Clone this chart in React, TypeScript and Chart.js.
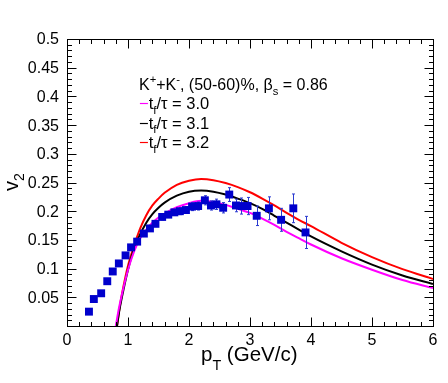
import React, { useEffect, useRef } from "react";
import { Chart, registerables } from "chart.js";

Chart.register(...registerables);

// Measured data (K+ + K-, 50-60%)
const ptData = [0.36, 0.44, 0.56, 0.66, 0.75, 0.85, 0.96, 1.05, 1.15, 1.26, 1.36, 1.45, 1.56, 1.66, 1.76, 1.85, 1.95, 2.05, 2.15, 2.26, 2.36, 2.45, 2.56, 2.66, 2.77, 2.86, 2.96, 3.11, 3.31, 3.51, 3.71, 3.91];
const v2Data = [0.025, 0.047, 0.057, 0.078, 0.095, 0.109, 0.123, 0.137, 0.147, 0.161, 0.170, 0.178, 0.190, 0.194, 0.198, 0.200, 0.202, 0.208, 0.209, 0.219, 0.210, 0.212, 0.206, 0.229, 0.210, 0.209, 0.209, 0.192, 0.205, 0.185, 0.205, 0.163];
const v2Err = [0.002, 0.002, 0.002, 0.002, 0.002, 0.002, 0.002, 0.003, 0.003, 0.003, 0.004, 0.004, 0.005, 0.005, 0.005, 0.006, 0.006, 0.007, 0.007, 0.008, 0.008, 0.009, 0.009, 0.012, 0.011, 0.014, 0.015, 0.017, 0.020, 0.020, 0.025, 0.028];

// Model curves
const curvePt = [0.8, 0.85, 0.9, 1.0, 1.1, 1.2, 1.3, 1.4, 1.5, 1.6, 1.8, 2.0, 2.2, 2.4, 2.6, 2.8, 3.0, 3.2, 3.4, 3.6, 3.8, 4.0, 4.5, 5.0, 5.5, 6.0];
const curve30 = [0.0, 0.03, 0.055, 0.098, 0.13, 0.153, 0.168, 0.18, 0.189, 0.196, 0.207, 0.214, 0.218, 0.216, 0.211, 0.204, 0.197, 0.187, 0.176, 0.164, 0.153, 0.142, 0.118, 0.098, 0.080, 0.066];
const curve31Pt = [0.82, 0.86, 0.9, 1.0, 1.1, 1.2, 1.3, 1.4, 1.5, 1.6, 1.8, 2.0, 2.2, 2.4, 2.6, 2.8, 3.0, 3.2, 3.4, 3.6, 3.8, 4.0, 4.5, 5.0, 5.5, 6.0];
const curve31 = [0.0, 0.028, 0.05, 0.098, 0.135, 0.16, 0.18, 0.195, 0.206, 0.215, 0.227, 0.234, 0.236, 0.234, 0.229, 0.222, 0.214, 0.204, 0.192, 0.180, 0.168, 0.156, 0.130, 0.107, 0.088, 0.073];
const curve32 = [0.0, 0.03, 0.055, 0.105, 0.14, 0.17, 0.193, 0.21, 0.222, 0.232, 0.246, 0.253, 0.256, 0.254, 0.249, 0.242, 0.233, 0.222, 0.210, 0.197, 0.185, 0.174, 0.145, 0.120, 0.099, 0.082];

const xTickLabels = [0, 1, 2, 3, 4, 5, 6];
const yTickLabels = [0.05, 0.1, 0.15, 0.2, 0.25, 0.3, 0.35, 0.4, 0.45, 0.5];
const legendLabels = ["3.0", "3.1", "3.2"];
const legendColors = ["#ff00ff", "#000000", "#ff0000"];

const FONT = "'Liberation Sans', Arial, Helvetica, sans-serif";

type Seg = { t: string; sub?: boolean; sup?: boolean; color?: string };

function richWidth(ctx: CanvasRenderingContext2D, segs: Seg[], size: number) {
  let w = 0;
  for (const s of segs) {
    const fs = s.sub || s.sup ? size * 0.7 : size;
    ctx.font = `${fs}px ${FONT}`;
    w += ctx.measureText(s.t).width;
  }
  return w;
}

function drawRich(ctx: CanvasRenderingContext2D, segs: Seg[], x: number, y: number, size: number, subShift = 0.3) {
  let cx = x;
  ctx.textBaseline = "alphabetic";
  ctx.textAlign = "left";
  for (const s of segs) {
    const fs = s.sub || s.sup ? size * 0.7 : size;
    ctx.font = `${fs}px ${FONT}`;
    const dy = s.sub ? size * subShift : s.sup ? -size * 0.42 : 0;
    ctx.fillStyle = s.color || "#000";
    ctx.fillText(s.t, cx, y + dy);
    cx += ctx.measureText(s.t).width;
  }
}

const decorPlugin = {
  id: "decor",
  beforeDatasetDraw(chart: any, args: any) {
    if (args.index !== 0) return;
    const ctx = chart.ctx as CanvasRenderingContext2D;
    const xs = chart.scales.x;
    const ys = chart.scales.y;
    ctx.save();
    ctx.strokeStyle = "#2a3ad0";
    ctx.lineWidth = 1;
    ptData.forEach((p, i) => {
      const px = Math.round(xs.getPixelForValue(p)) + 0.5;
      const y1 = ys.getPixelForValue(v2Data[i] - v2Err[i]);
      const y2 = ys.getPixelForValue(v2Data[i] + v2Err[i]);
      ctx.beginPath();
      ctx.moveTo(px, y1);
      ctx.lineTo(px, y2);
      ctx.moveTo(px - 1.5, y1);
      ctx.lineTo(px + 1.5, y1);
      ctx.moveTo(px - 1.5, y2);
      ctx.lineTo(px + 1.5, y2);
      ctx.stroke();
    });
    ctx.restore();
  },
  afterDraw(chart: any) {
    const ctx = chart.ctx as CanvasRenderingContext2D;
    const xs = chart.scales.x;
    const ys = chart.scales.y;
    const a = chart.chartArea;
    const L = Math.round(a.left) + 0.5;
    const R = Math.round(a.right) + 0.5;
    const T = Math.round(a.top) + 0.5;
    const B = Math.round(a.bottom) + 0.5;
    ctx.save();
    ctx.strokeStyle = "#000";
    ctx.lineWidth = 1;
    ctx.strokeRect(L, T, R - L, B - T);
    // ticks
    ctx.beginPath();
    for (let k = 0; k <= 30; k++) {
      const v = k * 0.2;
      const px = Math.round(xs.getPixelForValue(v)) + 0.5;
      const len = k % 5 === 0 ? 9 : 4.5;
      ctx.moveTo(px, B);
      ctx.lineTo(px, B - len);
      ctx.moveTo(px, T);
      ctx.lineTo(px, T + len);
    }
    for (let k = 0; k <= 50; k++) {
      const v = k * 0.01;
      const py = Math.round(ys.getPixelForValue(v)) + 0.5;
      const len = k % 5 === 0 ? 9 : 4.5;
      ctx.moveTo(L, py);
      ctx.lineTo(L + len, py);
      ctx.moveTo(R, py);
      ctx.lineTo(R - len, py);
    }
    ctx.stroke();

    // tick labels
    ctx.fillStyle = "#000";
    ctx.font = `16px ${FONT}`;
    ctx.textAlign = "center";
    ctx.textBaseline = "alphabetic";
    xTickLabels.forEach((v) => {
      ctx.fillText(String(v), xs.getPixelForValue(v), a.bottom + 19);
    });
    ctx.textAlign = "right";
    ctx.textBaseline = "middle";
    yTickLabels.forEach((v) => {
      ctx.fillText(String(v), a.left - 8, ys.getPixelForValue(v) + 1);
    });

    // axis titles
    const xt: Seg[] = [{ t: "p" }, { t: "T", sub: true }, { t: " (GeV/c)" }];
    drawRich(ctx, xt, 201, 361, 20.5, 0.45);
    const yt: Seg[] = [{ t: "v" }, { t: "2", sub: true }];
    const yw = richWidth(ctx, yt, 20);
    ctx.save();
    ctx.translate(18, 182);
    ctx.rotate(-Math.PI / 2);
    drawRich(ctx, yt, -yw / 2, 0, 20);
    ctx.restore();

    // legend
    const lx = 139;
    drawRich(ctx, [
      { t: "K" }, { t: "+", sup: true }, { t: "+K" }, { t: "-", sup: true },
      { t: ", (50-60)%, β" }, { t: "s", sub: true }, { t: " = 0.86" },
    ], lx, 90, 16);
    legendLabels.forEach((lab, i) => {
      drawRich(ctx, [
        { t: "−", color: legendColors[i] }, { t: "t" }, { t: "f", sub: true }, { t: "/τ = " + lab },
      ], lx, 109 + i * 19.5, 16.5);
    });
    ctx.restore();
  },
};

export default function App() {
  const ref = useRef<HTMLCanvasElement>(null);
  useEffect(() => {
    const canvas = ref.current;
    if (!canvas) return;
    const mk = (xsArr: number[], ysArr: number[]) => xsArr.map((x, i) => ({ x, y: ysArr[i] }));
    const chart = new Chart(canvas, {
      type: "scatter",
      data: {
        datasets: [
          {
            label: "data",
            data: mk(ptData, v2Data),
            pointStyle: "rect",
            pointRadius: 5.6,
            backgroundColor: "#0000cc",
            borderColor: "#0000cc",
            borderWidth: 0,
            showLine: false,
          },
          {
            label: "tf/tau = 3.0",
            data: mk(curvePt, curve30),
            showLine: true,
            pointRadius: 0,
            borderColor: legendColors[0],
            borderWidth: 2,
            cubicInterpolationMode: "monotone",
          },
          {
            label: "tf/tau = 3.1",
            data: mk(curve31Pt, curve31),
            showLine: true,
            pointRadius: 0,
            borderColor: legendColors[1],
            borderWidth: 2,
            cubicInterpolationMode: "monotone",
          },
          {
            label: "tf/tau = 3.2",
            data: mk(curve31Pt, curve32),
            showLine: true,
            pointRadius: 0,
            borderColor: legendColors[2],
            borderWidth: 2,
            cubicInterpolationMode: "monotone",
          },
        ],
      },
      options: {
        responsive: false,
        animation: false,
        devicePixelRatio: 1,
        layout: { padding: { left: 67, right: 15, top: 39, bottom: 57 } },
        plugins: { legend: { display: false }, tooltip: { enabled: false } },
        scales: {
          x: { type: "linear", min: 0, max: 6, display: false },
          y: { type: "linear", min: 0, max: 0.5, display: false },
        },
      },
      plugins: [decorPlugin],
    } as any);
    return () => chart.destroy();
  }, []);
  return (
    <div style={{ position: "absolute", left: 0, top: 0, width: 448, height: 383, background: "#fff" }}>
      <canvas ref={ref} width={448} height={383} style={{ width: 448, height: 383 }} />
    </div>
  );
}
